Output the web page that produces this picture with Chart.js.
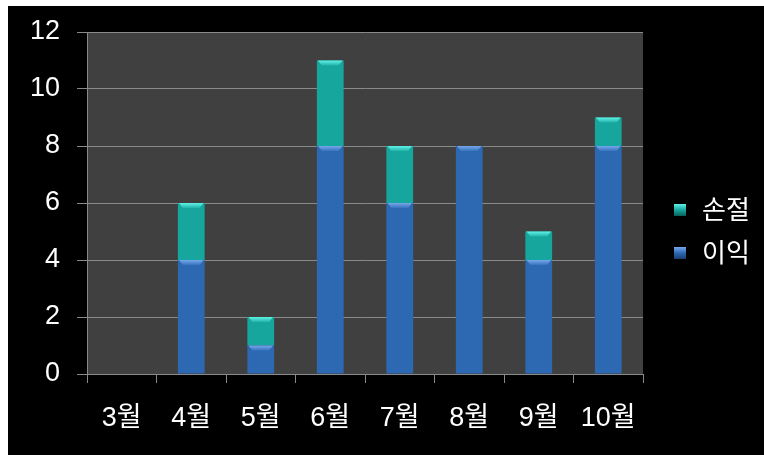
<!DOCTYPE html>
<html>
<head>
<meta charset="utf-8">
<script src="https://cdn.jsdelivr.net/npm/chart.js@4/dist/chart.umd.min.js"></script>
<style>
  html, body { margin: 0; padding: 0; background: #ffffff; }
  #wrap { position: absolute; left: 8px; top: 6px; width: 756px; height: 449px; background: #000; }
  canvas { display: block; }
</style>
</head>
<body>
<div id="wrap"><canvas id="c" width="756" height="449"></canvas></div>
<script>
// Monthly counts: profit (이익) stacked under stop-loss (손절)
const months = ['3월', '4월', '5월', '6월', '7월', '8월', '9월', '10월'];
const profit = [0, 4, 1, 8, 6, 8, 4, 8];
const stopLoss = [0, 2, 1, 3, 2, 0, 1, 1];
const yTicks = [0, 2, 4, 6, 8, 10, 12];

const FONT = '"Liberation Sans", Arial, "Noto Sans CJK KR", sans-serif';

const palette = {
  profit:   { edge: '#1c3f70', mid: '#2d68b2', top: '#76a8ec' },
  stopLoss: { edge: '#0b5f5b', mid: '#16a69e', top: '#5ff2e6' }
};

// Horizontal shading across each bar
function barGradient(key) {
  return function (ctx) {
    const chart = ctx.chart;
    const el = ctx.element;
    if (!el || !chart.chartArea) return palette[key].mid;
    const w = el.width || 26;
    const x0 = el.x - w / 2, x1 = el.x + w / 2;
    if (!isFinite(x0) || !isFinite(x1)) return palette[key].mid;
    const g = chart.ctx.createLinearGradient(x0, 0, x1, 0);
    g.addColorStop(0, palette[key].edge);
    g.addColorStop(0.18, palette[key].mid);
    g.addColorStop(0.75, palette[key].mid);
    g.addColorStop(1, palette[key].edge);
    return g;
  };
}

const bgPlugin = {
  id: 'bg',
  beforeDraw(chart) {
    const { ctx, chartArea: a } = chart;
    ctx.save();
    ctx.fillStyle = '#000';
    ctx.fillRect(0, 0, chart.width, chart.height);
    ctx.fillStyle = '#404040';
    ctx.fillRect(a.left, a.top, a.right - a.left, a.bottom - a.top);
    ctx.restore();
  }
};

// Light bevel along the top edge of every bar segment
const bevelPlugin = {
  id: 'bevel',
  afterDatasetsDraw(chart) {
    const ctx = chart.ctx;
    const keys = ['profit', 'stopLoss'];
    chart.data.datasets.forEach((ds, i) => {
      const meta = chart.getDatasetMeta(i);
      meta.data.forEach((bar, j) => {
        if (!ds.data[j]) return;
        const w = bar.width, x0 = bar.x - w / 2, x1 = bar.x + w / 2, y = bar.y;
        const g = ctx.createLinearGradient(0, y, 0, y + 6);
        g.addColorStop(0, palette[keys[i]].top);
        g.addColorStop(1, palette[keys[i]].mid);
        ctx.save();
        ctx.fillStyle = g;
        ctx.beginPath();
        ctx.moveTo(x0 + 1, y);
        ctx.lineTo(x1 - 1, y);
        ctx.lineTo(x1 - 5, y + 5);
        ctx.lineTo(x0 + 5, y + 5);
        ctx.closePath();
        ctx.fill();
        ctx.restore();
      });
    });
  }
};

// Legend at the right, top entry is the upper stack segment
const legendPlugin = {
  id: 'sideLegend',
  afterDraw(chart) {
    const ctx = chart.ctx;
    const items = [
      { label: chart.data.datasets[1].label, key: 'stopLoss', y: 204 },
      { label: chart.data.datasets[0].label, key: 'profit', y: 247 }
    ];
    ctx.save();
    items.forEach(it => {
      const g = ctx.createLinearGradient(0, it.y - 6, 0, it.y + 6);
      g.addColorStop(0, palette[it.key].top);
      g.addColorStop(0.5, palette[it.key].mid);
      g.addColorStop(1, palette[it.key].edge);
      ctx.fillStyle = g;
      ctx.fillRect(666, it.y - 6, 12, 12);
      ctx.fillStyle = '#ffffff';
      ctx.font = '26px ' + FONT;
      ctx.textBaseline = 'middle';
      ctx.textAlign = 'left';
      ctx.fillText(it.label, 694, it.y + 2);
    });
    ctx.restore();
  }
};

new Chart(document.getElementById('c'), {
  type: 'bar',
  data: {
    labels: months,
    datasets: [
      { label: '이익', data: profit, backgroundColor: barGradient('profit'), borderWidth: 0 },
      { label: '손절', data: stopLoss, backgroundColor: barGradient('stopLoss'), borderWidth: 0 }
    ]
  },
  options: {
    responsive: false,
    animation: false,
    devicePixelRatio: 1,
    categoryPercentage: 1,
    barPercentage: 0.385,
    layout: { padding: { top: 26, right: 121, bottom: 0, left: 0 } },
    plugins: { legend: { display: false }, tooltip: { enabled: false } },
    scales: {
      x: {
        stacked: true,
        grid: { offset: true, drawOnChartArea: false, color: '#8a8a8a', tickLength: 9, lineWidth: 1 },
        border: { color: '#8a8a8a', width: 1 },
        ticks: { color: '#ffffff', font: { family: FONT, size: 27 }, padding: 19, maxRotation: 0 },
        afterFit(s) { s.height = 81; s.paddingLeft = 0; s.paddingRight = 0; }
      },
      y: {
        stacked: true,
        min: 0, max: 12,
        afterBuildTicks(s) { s.ticks = yTicks.map(v => ({ value: v })); },
        grid: { color: '#8a8a8a', tickLength: 10, lineWidth: 1 },
        border: { color: '#8a8a8a', width: 1 },
        ticks: { color: '#ffffff', font: { family: FONT, size: 27 }, padding: 17 },
        afterFit(s) { s.width = 79; s.paddingTop = 0; s.paddingBottom = 0; }
      }
    }
  },
  plugins: [bgPlugin, bevelPlugin, legendPlugin]
});
</script>
</body>
</html>
